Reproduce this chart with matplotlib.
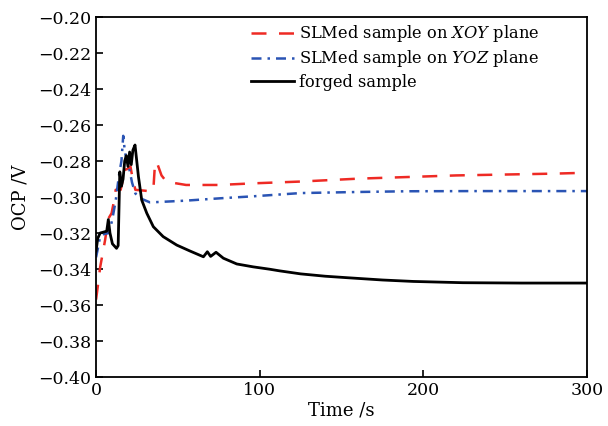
import matplotlib
matplotlib.use("Agg")
from matplotlib import pyplot as plt

# OCP readings (time in s, potential in V)
forged_t = [0, 1, 2.5, 6.5, 7.5, 8.5, 10, 12.5, 13.5, 14.5, 15.5, 16.5, 17.5, 18.5,
            19.5, 20.5, 21.5, 22.5, 23.8, 25.9, 27.9, 31, 35, 41, 49.3, 57.4, 65.6,
            68, 70, 73.3, 77.8, 86, 96, 106, 112, 125, 140, 153, 175, 193.8, 224,
            260, 300]
forged_v = [-0.330, -0.323, -0.320, -0.319, -0.3125, -0.320, -0.326, -0.3285, -0.327,
            -0.286, -0.294, -0.290, -0.280, -0.277, -0.283, -0.275, -0.282, -0.274,
            -0.2711, -0.2887, -0.3017, -0.309, -0.3165, -0.322, -0.3267, -0.330,
            -0.3332, -0.3304, -0.333, -0.3307, -0.334, -0.3372, -0.3388, -0.3401,
            -0.3410, -0.3427, -0.3440, -0.3448, -0.3461, -0.3469, -0.3476, -0.3478,
            -0.3478]

xoy_t = [0, 1, 2.5, 5.5, 7.5, 9.5, 11, 12, 15, 16, 17, 19, 21, 22, 24, 30, 34, 35,
         36, 37, 40, 43, 55, 75, 96, 125, 160, 190, 220, 250, 280, 300]
xoy_v = [-0.357, -0.350, -0.339, -0.324, -0.312, -0.309, -0.302, -0.296, -0.296,
         -0.292, -0.285, -0.2845, -0.283, -0.288, -0.296, -0.2965, -0.297, -0.296,
         -0.2815, -0.2804, -0.288, -0.2915, -0.2933, -0.2933, -0.2924, -0.2914,
         -0.2898, -0.2889, -0.288, -0.2875, -0.287, -0.2865]

yoz_t = [0, 1, 2.5, 5, 8, 10, 12, 14, 15.5, 16.6, 17.5, 18.5, 20, 22, 24, 27, 33,
         55, 76, 96, 125, 160, 190, 230, 300]
yoz_v = [-0.3335, -0.329, -0.322, -0.3205, -0.320, -0.312, -0.302, -0.288, -0.280,
         -0.266, -0.274, -0.279, -0.283, -0.292, -0.298, -0.3007, -0.303, -0.302,
         -0.3007, -0.2996, -0.2978, -0.2972, -0.2968, -0.2967, -0.2967]

x_ticks = [0, 100, 200, 300]
y_ticks = [-0.40, -0.38, -0.36, -0.34, -0.32, -0.30, -0.28, -0.26, -0.24, -0.22, -0.20]

plt.rcParams['font.family'] = ['DejaVu Serif']
plt.rcParams['mathtext.fontset'] = 'dejavuserif'

fig = plt.figure(figsize=(6.08, 4.26), dpi=100)
ax = fig.add_axes([0.158, 0.115, 0.8075, 0.845])

ax.plot(xoy_t, xoy_v, color='#ee2a24', lw=1.8, dashes=(6, 5),
        label=r'SLMed sample on $\it{XOY}$ plane')
ax.plot(yoz_t, yoz_v, color='#2a54b4', lw=1.8, dashes=(4, 2.4, 1, 2.4),
        label=r'SLMed sample on $\it{YOZ}$ plane')
ax.plot(forged_t, forged_v, color='black', lw=2.0, label='forged sample')

ax.set_xlim(0, 300)
ax.set_ylim(-0.40, -0.20)
ax.set_xticks(x_ticks)
ax.set_yticks(y_ticks)
ax.set_yticklabels([('%.2f' % v).replace('-', '\u2212') for v in y_ticks])
ax.tick_params(direction='in', length=5, width=1.2, labelsize=12.5)
for s in ax.spines.values():
    s.set_linewidth(1.3)

ax.set_xlabel('Time /s', fontsize=13, labelpad=2)
ax.set_ylabel('OCP /V', fontsize=13, labelpad=6)

ax.legend(loc='upper right', frameon=False, fontsize=11.7, handlelength=2.6,
          handletextpad=0.3, labelspacing=0.25, borderaxespad=0.3,
          bbox_to_anchor=(0.925, 1.014))

fig.savefig('out.png', dpi=100)
